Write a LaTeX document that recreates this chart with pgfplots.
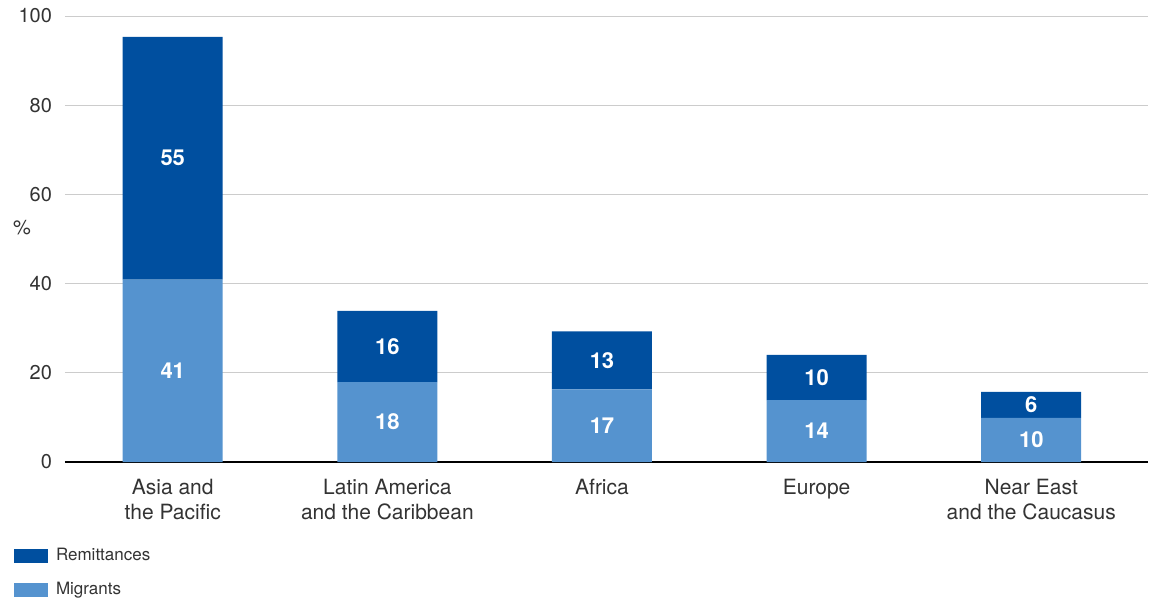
\documentclass[border=0pt]{standalone}
\usepackage{pgfplots}
\pgfplotsset{compat=1.18}
\usepackage{pgfplotstable}
\usepackage{fontspec}
\setmainfont{TeX Gyre Heros}
\definecolor{darkb}{HTML}{004F9F}
\definecolor{lightb}{HTML}{5593CF}
\definecolor{txt}{HTML}{333333}
\definecolor{gridc}{HTML}{CCCCCC}
\pgfplotstableread{
x mig rem lmig lrem
0 40.9 54.4 41 55
1 17.9 16.0 18 16
2 16.3 13.0 17 13
3 13.9 10.1 14 10
4 9.9 5.8 10 6
}\data
\begin{document}
\begin{tikzpicture}
\begin{axis}[
  name=ax,
  width=541.5pt, height=223pt, scale only axis,
  xmin=-0.502, xmax=4.544, ymin=0, ymax=100,
  ybar stacked, bar width=50pt,
  axis line style={draw=none},
  ytick={0,20,40,60,80,100},
  xtick={0,1,2,3,4},
  xticklabels={{Asia and\\the Pacific},{Latin America\\and the Caribbean},{Africa},{Europe},{Near East\\and the Caucasus}},
  xticklabel style={align=center, font=\fontsize{10.5}{12.5}\selectfont, text=txt, yshift=-5pt},
  yticklabel style={font=\fontsize{10}{12}\selectfont, text=txt, xshift=-3pt},
  /pgf/number format/assume math mode=true,
  major tick length=0pt,
  ymajorgrids, grid style={gridc, line width=0.5pt},
  clip=false,
  reverse legend,
  legend style={draw=none, fill=none, at={(-0.053,-0.175)}, anchor=north west,
    font=\fontsize{8.5}{10}\selectfont, text=txt, row sep=5pt},
  legend cell align=left,
  legend image code/.code={\fill[#1] (0pt,-3.5pt) rectangle (17pt,3.5pt); \path (19pt,0pt);},
  nodes near coords,
  point meta=explicit symbolic,
  every node near coord/.append style={text=white, font=\fontsize{11}{13}\selectfont\bfseries, anchor=center},
]
\addplot[fill=lightb, draw=none]
  table[x=x, y=mig, meta=lmig] {\data};
\addlegendentry{Migrants}
\addplot[fill=darkb, draw=none]
  table[x=x, y=rem, meta=lrem] {\data};
\addlegendentry{Remittances}
\draw[black, line width=0.7pt] (rel axis cs:0,0) -- (rel axis cs:1,0);
\node[text=txt, font=\fontsize{10}{12}\selectfont] at (rel axis cs:-0.0397,0.525) {\%};
\end{axis}
\path ([shift={(-32.5pt,-68pt)}]ax.south west) rectangle ([shift={(1pt,8pt)}]ax.north east);
\end{tikzpicture}
\end{document}
